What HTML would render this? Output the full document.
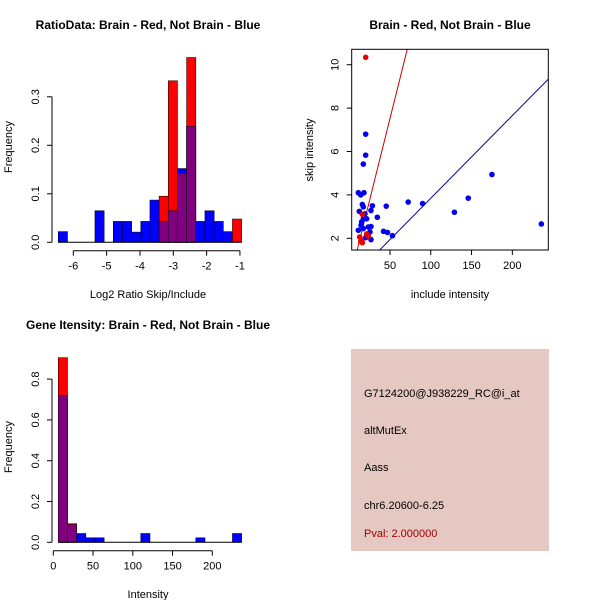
<!DOCTYPE html>
<html><head><meta charset="utf-8"><style>
html,body{margin:0;padding:0;background:#fff;}
svg{display:block;font-family:"Liberation Sans",Arial,sans-serif;}
</style></head><body>
<svg id="c" width="600" height="600" viewBox="0 0 600 600" xmlns="http://www.w3.org/2000/svg">
<rect x="0" y="0" width="600" height="600" fill="#fff"/>
<text x="148" y="29" text-anchor="middle" font-size="12" font-weight="bold">RatioData: Brain - Red, Not Brain - Blue</text>
<text x="148" y="298" text-anchor="middle" font-size="11">Log2 Ratio Skip/Include</text>
<text transform="translate(12,147) rotate(-90)" text-anchor="middle" font-size="11">Frequency</text>
<text x="450" y="29" text-anchor="middle" font-size="12" font-weight="bold">Brain - Red, Not Brain - Blue</text>
<text x="450" y="298" text-anchor="middle" font-size="11">include intensity</text>
<text transform="translate(313,150) rotate(-90)" text-anchor="middle" font-size="11">skip intensity</text>
<text x="148" y="329" text-anchor="middle" font-size="12" font-weight="bold">Gene Itensity: Brain - Red, Not Brain - Blue</text>
<text x="148" y="598" text-anchor="middle" font-size="11">Intensity</text>
<text transform="translate(12,447) rotate(-90)" text-anchor="middle" font-size="11">Frequency</text>
<g>
<rect x="351" y="349" width="198" height="202" fill="#e6c8c2"/>
<text x="364" y="397" font-size="11">G7124200@J938229_RC@i_at</text>
<text x="364" y="434" font-size="11">altMutEx</text>
<text x="364" y="471" font-size="11">Aass</text>
<text x="364" y="509" font-size="11">chr6.20600-6.25</text>
<text x="364" y="537" font-size="11" fill="#a00000">Pval: 2.000000</text>
</g>
</svg>
<script>
// Ratio histogram data
const ratioBinStart = -6.45, ratioBinWidth = 0.275;
const ratioBlue = [0.022,0,0,0,0.065,0,0.043,0.043,0.021,0.043,0.087,0.043,0.065,0.152,0.239,0.043,0.065,0.043,0.022,0];
const ratioRed  = [0,0,0,0,0,0,0,0,0,0,0,0.095,0.333,0.142,0.381,0,0,0,0,0.048];
const ratioXTicks = [-6,-5,-4,-3,-2,-1];
const ratioYTicks = [0,0.1,0.2,0.3];
// Intensity histogram data
const intBinStart = 6.3, intBinWidth = 11.53;
const intBlue = [0.718,0.087,0.043,0.022,0.022,0,0,0,0,0.043,0,0,0,0,0,0.022,0,0,0,0.043];
const intRed  = [0.905,0.091,0,0,0,0,0,0,0,0,0,0,0,0,0,0,0,0,0,0];
const intXTicks = [0,50,100,150,200];
const intYTicks = [0,0.2,0.4,0.6,0.8];
// Scatter data
const blueX = [20.2,20.2,17.3,11.2,14.1,18.1,16.1,17.3,12.4,28.4,26.7,34.5,45.4,72.3,90,146,175,129,235.6,26.7,25.5,42.1,47,53,26.7,20.2,11.2,15.2,17.3,19.3,21.4,14.5,17.3,23.4];
const blueY = [6.8,5.83,5.42,4.1,4.0,4.1,3.56,3.45,3.24,3.5,3.28,2.97,3.48,3.67,3.6,3.85,4.94,3.2,2.66,2.54,2.29,2.32,2.27,2.12,1.94,2.03,2.37,2.75,2.9,3.13,2.9,2.6,2.45,2.52];
const redX = [20.2,12.8,15.2,16.1,21.4,23.4,14.1,16.1];
const redY = [10.34,2.06,1.9,1.8,2.2,2.1,1.85,3.1];
const redSlope = 0.1507, redIntercept = -0.017;
const blueSlope = 0.0381, blueIntercept = 0.035;
const scXTicks = [50,100,150,200];
const scYTicks = [2,4,6,8,10];

const svg = document.getElementById('c');
const NS = 'http://www.w3.org/2000/svg';
function mk(tag, attrs, parent){const e=document.createElementNS(NS,tag);for(const k in attrs)e.setAttribute(k,attrs[k]);(parent||svg).appendChild(e);return e;}

function histogram(name, binStart, binW, blue, red, xTicks, yTicks, sx, sy, axisY, yAxisX){
  const g = mk('g',{});
  
  
  for(let i=0;i<blue.length;i++){
    const x0=sx(binStart+i*binW), x1=sx(binStart+(i+1)*binW);
    const b=blue[i], r=red[i], m=Math.min(b,r);
    if(b>0){const e=mk('rect',{x:x0,y:sy(b),width:x1-x0,height:sy(0)-sy(b),fill:'#0000ff',stroke:'#000033','stroke-width':0.6},g);
      
      }
    if(r>0){const e=mk('rect',{x:x0,y:sy(r),width:x1-x0,height:sy(0)-sy(r),fill:'#ff0000',stroke:'#330000','stroke-width':0.6},g);
      
      }
    if(m>0){const e=mk('rect',{x:x0,y:sy(m),width:x1-x0,height:sy(0)-sy(m),fill:'#800080',stroke:'#200020','stroke-width':0.6},g);
      
      }
  }
  const bl = mk('line',{x1:sx(binStart),x2:sx(binStart+blue.length*binW),y1:sy(0),y2:sy(0),stroke:'#000'},g);
  
  
  const xa=mk('g',{},g);
  
  
  mk('line',{x1:sx(xTicks[0]),x2:sx(xTicks[xTicks.length-1]),y1:axisY,y2:axisY,stroke:'#000'},xa);
  xTicks.forEach(t=>{mk('line',{x1:sx(t),x2:sx(t),y1:axisY,y2:axisY+5,stroke:'#000'},xa);
    const tx=mk('text',{x:sx(t),y:axisY+19,'text-anchor':'middle','font-size':11},xa);tx.textContent=t;});
  const ya=mk('g',{},g);
  
  
  mk('line',{x1:yAxisX,x2:yAxisX,y1:sy(yTicks[0]),y2:sy(yTicks[yTicks.length-1]),stroke:'#000'},ya);
  yTicks.forEach(t=>{mk('line',{x1:yAxisX-5,x2:yAxisX,y1:sy(t),y2:sy(t),stroke:'#000'},ya);
    const tx=mk('text',{transform:`translate(${yAxisX-13},${sy(t)}) rotate(-90)`,'text-anchor':'middle','font-size':11},ya);tx.textContent=t.toFixed(1);});
}

histogram('ratio-histogram', ratioBinStart, ratioBinWidth, ratioBlue, ratioRed, ratioXTicks, ratioYTicks,
  v=>73.3+(v+6)*33.33, v=>242.3-v*485, 250.7, 52);
histogram('intensity-histogram', intBinStart, intBinWidth, intBlue, intRed, intXTicks, intYTicks,
  v=>53.3+v*0.795, v=>542.3-v*204, 550.7, 52);

// Scatter
const L=351.7,R=548.3,T=49.3,B=250;
const sx=v=>349.2+v*0.8156, sy=v=>238.3-(v-2)*21.7;
const sg=mk('g',{});


mk('defs',{}).innerHTML='<clipPath id="clp"><rect x="'+L+'" y="'+T+'" width="'+(R-L)+'" height="'+(B-T)+'"/></clipPath>';
const pg=mk('g',{'clip-path':'url(#clp)'},sg);
const x0=3,x1=244;
const rl=mk('line',{x1:sx(x0),y1:sy(redIntercept+redSlope*x0),x2:sx(x1),y2:sy(redIntercept+redSlope*x1),stroke:'#cc0000','stroke-width':1},pg);


const bln=mk('line',{x1:sx(x0),y1:sy(blueIntercept+blueSlope*x0),x2:sx(x1),y2:sy(blueIntercept+blueSlope*x1),stroke:'#00008b','stroke-width':1},pg);


blueX.forEach((x,i)=>{const c=mk('circle',{cx:sx(x),cy:sy(blueY[i]),r:2.8,fill:'#0000ee'},pg);
  
  });
redX.forEach((x,i)=>{const c=mk('circle',{cx:sx(x),cy:sy(redY[i]),r:2.8,fill:'#ee0000'},pg);
  
  });
const fr=mk('rect',{x:L,y:T,width:R-L,height:B-T,fill:'none',stroke:'#000'},sg);


const sxa=mk('g',{},sg);


scXTicks.forEach(t=>{mk('line',{x1:sx(t),x2:sx(t),y1:B,y2:B+5,stroke:'#000'},sxa);
  const tx=mk('text',{x:sx(t),y:B+19,'text-anchor':'middle','font-size':11},sxa);tx.textContent=t;});
const sya=mk('g',{},sg);


scYTicks.forEach(t=>{mk('line',{x1:L-5,x2:L,y1:sy(t),y2:sy(t),stroke:'#000'},sya);
  const tx=mk('text',{transform:`translate(${L-13},${sy(t)}) rotate(-90)`,'text-anchor':'middle','font-size':11},sya);tx.textContent=t;});
</script>
</body></html>
